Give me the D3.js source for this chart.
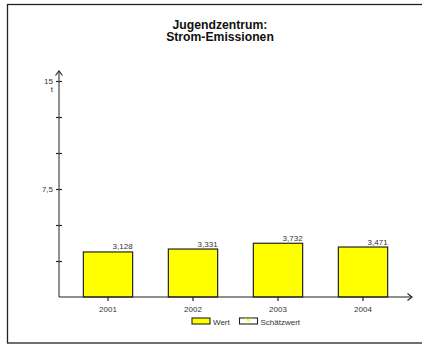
<!DOCTYPE html>
<html><head><meta charset="utf-8">
<script src="https://cdn.jsdelivr.net/npm/d3@7"></script>
<style>body{margin:0;background:#fff}svg{display:block;font-family:"Liberation Sans",Arial,sans-serif}</style>
</head><body><svg id="c" width="422" height="345"></svg>
<script>
const titleLines = ["Jugendzentrum:", "Strom-Emissionen"];
const years = ["2001", "2002", "2003", "2004"];
const values = [3.128, 3.331, 3.732, 3.471];
const valueLabels = ["3,128", "3,331", "3,732", "3,471"];
const yTicks = [0, 2.5, 5, 7.5, 10, 12.5, 15];
const yTickLabels = {7.5: "7,5", 15: "15"};
const unit = "t";
const legendItems = ["Wert", "Schätzwert"];

const svg = d3.select("#c");
svg.append("rect").attr("x", 7.5).attr("y", 4.5).attr("width", 430).attr("height", 338.5)
  .attr("fill", "none").attr("stroke", "#222").attr("stroke-width", 1.3);

svg.selectAll("text.title").data(titleLines).join("text")
  .attr("x", 220).attr("y", (d, i) => 28.5 + i * 12.5).attr("text-anchor", "middle")
  .attr("font-size", 12.2).attr("font-weight", "bold").attr("fill", "#111").text(d => d);

const x0 = 59, yBase = 297;
const y = d3.scaleLinear().domain([0, 15]).range([yBase, 81]);
const x = d3.scaleBand().domain(years).range([65.5, 405.5]).paddingInner(0.42).paddingOuter(0.21);

// bars
svg.selectAll("rect.bar").data(values).join("rect")
  .attr("x", (d, i) => x(years[i])).attr("y", d => y(d))
  .attr("width", x.bandwidth()).attr("height", d => yBase - y(d))
  .attr("fill", "#ffff00").attr("stroke", "#222").attr("stroke-width", 1.2);

svg.selectAll("text.val").data(valueLabels).join("text")
  .attr("x", (d, i) => x(years[i]) + x.bandwidth()).attr("y", (d, i) => y(values[i]) - 2.5)
  .attr("text-anchor", "end").attr("font-size", 8).attr("fill", "#333").text(d => d);

// y axis
const gy = svg.append("g").attr("transform", `translate(${x0},0)`);
gy.call(d3.axisLeft(y).tickValues(yTicks).tickSize(0).tickFormat(d => yTickLabels[d] || ""));
gy.select(".domain").remove();
gy.selectAll(".tick line").remove();
gy.selectAll(".tick").filter(d => d > 0).append("line").attr("x1", -3).attr("x2", 3).attr("stroke", "#222").attr("stroke-width", 1.2);
gy.selectAll(".tick text").attr("x", -6).attr("font-size", 8).attr("fill", "#333").attr("font-family", "Liberation Sans, Arial, sans-serif");
gy.append("line").attr("y1", yBase).attr("y2", 71).attr("stroke", "#444").attr("stroke-width", 1.2);
gy.append("path").attr("d", "M-3.5,75.5L0,71L3.5,75.5").attr("fill", "none").attr("stroke", "#222").attr("stroke-width", 1.1);
gy.append("text").attr("x", -6).attr("y", y(15) + 11).attr("text-anchor", "end")
  .attr("font-size", 8).attr("fill", "#333").text(unit);

// x axis
const gx = svg.append("g").attr("transform", `translate(0,${yBase})`);
gx.call(d3.axisBottom(x).tickSize(4).tickPadding(5));
gx.select(".domain").remove();
gx.selectAll(".tick line").attr("stroke", "#222").attr("stroke-width", 1.2);
gx.selectAll(".tick text").attr("font-size", 8).attr("fill", "#333").attr("font-family", "Liberation Sans, Arial, sans-serif");
gx.append("line").attr("x1", x0).attr("x2", 412).attr("stroke", "#222").attr("stroke-width", 1.2);
gx.append("path").attr("d", "M407.5,-3.5L412,0L407.5,3.5").attr("fill", "none").attr("stroke", "#222").attr("stroke-width", 1.1);

// legend
const lg = svg.append("g");
const lx = [192, 239.5];
lg.selectAll("rect").data(legendItems).join("rect")
  .attr("x", (d, i) => lx[i]).attr("y", 318).attr("width", 18).attr("height", 6)
  .attr("fill", (d, i) => i === 0 ? "#ffff00" : "#fff").attr("stroke", "#222").attr("stroke-width", 1.1);
lg.append("path").attr("d", "M245.5,318.5L248.5,321L251.5,318.5").attr("fill", "none").attr("stroke", "#ffff00").attr("stroke-width", 1.2);
lg.selectAll("text").data(legendItems).join("text")
  .attr("x", (d, i) => lx[i] + 21).attr("y", 324.5).attr("font-size", 8).attr("fill", "#333").text(d => d);
</script></body></html>
